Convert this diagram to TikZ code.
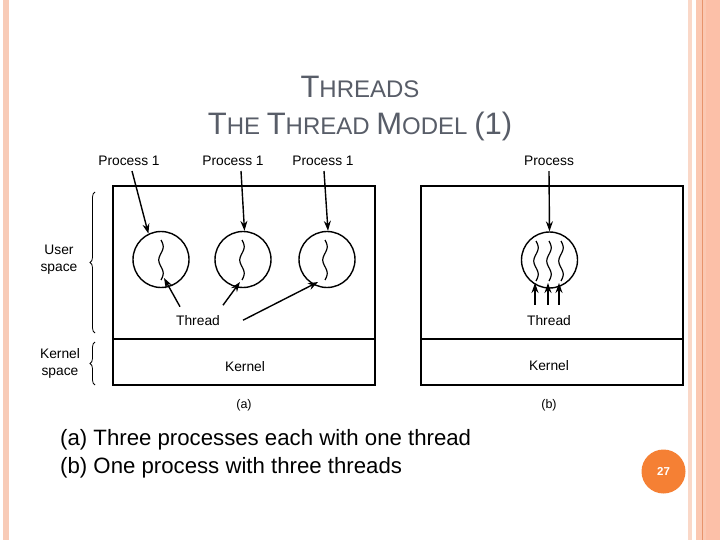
\documentclass[tikz,border=0pt]{standalone}
\usepackage{fontspec}
\setmainfont{Liberation Sans}
\usetikzlibrary{arrows.meta,decorations.pathreplacing,calc}
\definecolor{stripeL}{RGB}{248,203,183}
\definecolor{stripeLt}{RGB}{250,216,200}
\definecolor{stripeR}{RGB}{251,200,178}
\definecolor{stripeRd}{RGB}{252,192,168}
\definecolor{stripeLine}{RGB}{232,148,108}
\definecolor{pgorange}{RGB}{245,128,52}
\definecolor{titlegray}{RGB}{88,93,104}
\newcommand\mywavy[3]{%
  \draw[squig] plot[domain=0:40,samples=41,smooth] ({#1+2.2*sin(\x*13.5)},{#2+\x});
  \coordinate (#3) at (#1,#2+40);}
\begin{document}
\begin{tikzpicture}[x=1pt,y=-1pt,
  lbl/.style={font=\fontsize{13.8}{17}\selectfont, inner sep=0pt, align=center},
  arr/.style={-{Stealth[length=10pt,width=7pt]}, line width=1.4pt},
  proc/.style={circle, draw, line width=1.4pt, minimum size=56pt, inner sep=0pt},
  box/.style={draw, line width=1.4pt, inner sep=0pt},
  squig/.style={line width=1.2pt},
  brc/.style={decorate, decoration={brace, amplitude=5pt}, line width=0.8pt},
]
\useasboundingbox (0,0) rectangle (720,540);
\fill[white] (0,0) rectangle (720,540);
% page border stripes
\fill[stripeL] (3,0) rectangle (9,540);
\fill[stripeLt] (688,0) rectangle (692,540);
\fill[stripeR] (696,0) rectangle (706,540);
\fill[stripeRd] (706,0) rectangle (720,540);
\fill[stripeLine] (702,0) rectangle (703.2,540);

% title
\node[anchor=base, text=titlegray, inner sep=0pt] (t1) at (360,98)
  {\fontsize{31}{31}\selectfont T\fontsize{24}{24}\selectfont HREADS};
\node[anchor=base, text=titlegray, inner sep=0pt] (t2) at (360,134.5)
  {\fontsize{31}{31}\selectfont T\fontsize{24}{24}\selectfont HE \fontsize{31}{31}\selectfont T\fontsize{24}{24}\selectfont HREAD \fontsize{31}{31}\selectfont M\fontsize{24}{24}\selectfont ODEL \fontsize{31}{31}\selectfont (1)};

% boxes (a)
\draw[box] (113,186) rectangle (375,339);
\draw[box] (113,339) rectangle (375,385);
% boxes (b)
\draw[box] (421,186) rectangle (683,339);
\draw[box] (421,339) rectangle (683,385);

% braces and side labels
\draw[brc] (95,333) -- (95,192);
\draw[brc] (95,385) -- (95,342);
\node[lbl] (us) at (59,259.5) {User\\space};
\node[lbl] (ks) at (60,363.5) {Kernel\\space};

% process labels
\node[lbl] (p1) at (129,161) {Process 1};
\node[lbl] (p2) at (233,161) {Process 1};
\node[lbl] (p3) at (323,161) {Process 1};
\node[lbl] (pb) at (549,161) {Process};

% circles
\node[proc] (c1) at (161,259.5) {};
\node[proc] (c2) at (243,259.5) {};
\node[proc] (c3) at (327,259.5) {};
\node[proc] (c4) at (549.5,260) {};

% threads
\mywavy{161}{240}{s1}
\mywavy{242}{240}{s2}
\mywavy{325}{240}{s3}
\mywavy{536}{241}{s4}
\mywavy{549}{241}{s5}
\mywavy{561}{241}{s6}

% process arrows
\draw[arr] ([xshift=3pt,yshift=-5pt]p1.south) -- (c1.116);
\draw[arr] ([xshift=8pt,yshift=-5pt]p2.south) -- (c2.87);
\draw[arr] ([xshift=1pt,yshift=-5pt]p3.south) -- (c3.88);
\draw[arr] ([yshift=-5pt]pb.south) -- (c4.90);

% thread labels and arrows
\node[lbl] (ta) at (198,320.7) {Thread};
\node[lbl] (tb) at (549,320.5) {Thread};
\draw[arr] ([xshift=-18pt,yshift=14pt]ta.center) -- ([xshift=3pt,yshift=2pt]s1);
\draw[arr] ([xshift=25pt,yshift=15.5pt]ta.center) -- ([xshift=-2pt,yshift=-2pt]s2);
\draw[arr] ([xshift=45pt,yshift=0.5pt]ta.center) -- ([xshift=-7pt,yshift=-2pt]s3);
\draw[arr] ([xshift=-14pt,yshift=16pt]tb.center) -- ([xshift=-1pt,yshift=-2pt]s4);
\draw[arr] ([xshift=-1pt,yshift=16pt]tb.center) -- ([xshift=-1pt,yshift=-2pt]s5);
\draw[arr] ([xshift=10pt,yshift=16pt]tb.center) -- ([xshift=-2pt,yshift=-2pt]s6);

% kernel labels
\node[lbl] (ka) at (245,366.5) {Kernel};
\node[lbl] (kb) at (549,366) {Kernel};
\node[lbl, font=\fontsize{12.5}{14}\selectfont] (la) at (244,405) {(a)};
\node[lbl, font=\fontsize{12.5}{14}\selectfont] (lb) at (549,405) {(b)};

% caption
\node[anchor=base west, inner sep=0pt, font=\fontsize{22.2}{26}\selectfont] (cap1) at (60,445) {(a) Three processes each with one thread};
\node[anchor=base west, inner sep=0pt, font=\fontsize{22.2}{26}\selectfont] (cap2) at (60,473) {(b) One process with three threads};

% page number
\node[circle, fill=pgorange, minimum size=44pt, inner sep=0pt, text=white,
  font=\bfseries\fontsize{11.5}{12}\selectfont] (pg) at (663.5,471.5) {27};
\end{tikzpicture}
\end{document}
